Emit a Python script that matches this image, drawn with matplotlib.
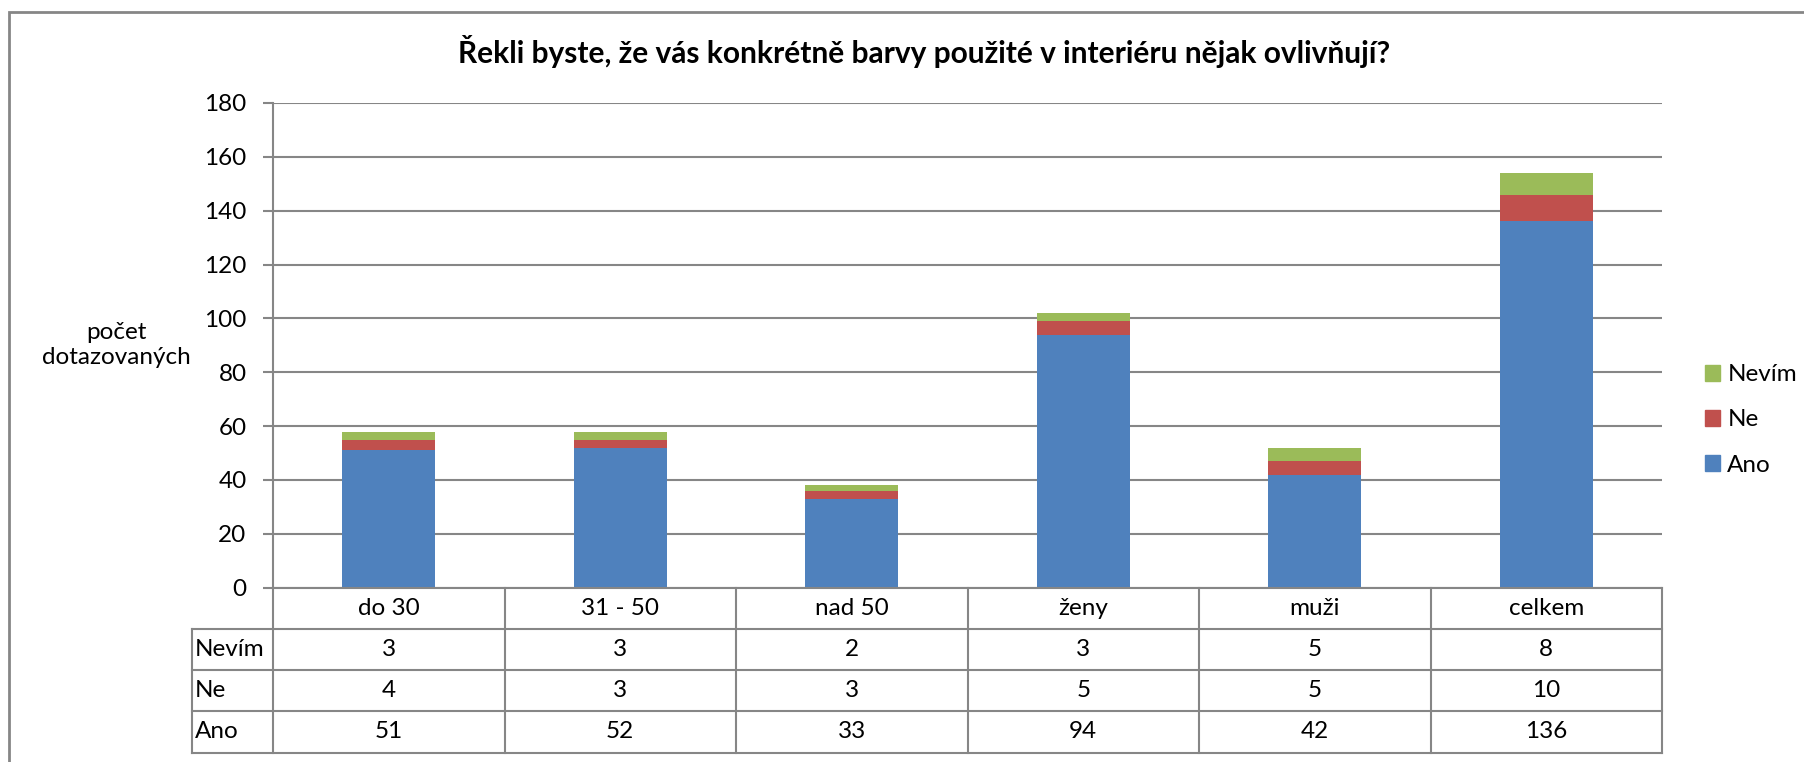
import matplotlib
matplotlib.use("Agg")
import matplotlib.pyplot as plt
from matplotlib.patches import Rectangle, Patch
import matplotlib.transforms as mtransforms

categories = ["do 30", "31 - 50", "nad 50", "ženy", "muži", "celkem"]
ano = [51, 52, 33, 94, 42, 136]
ne = [4, 3, 3, 5, 5, 10]
nevim = [3, 3, 2, 3, 5, 8]
series_names = ["Nevím", "Ne", "Ano"]
title = "Řekli byste, že vás konkrétně barvy použité v interiéru nějak ovlivňují?"
ylabel = "počet\ndotazovaných"
yticks = [0, 20, 40, 60, 80, 100, 120, 140, 160, 180]

C_ANO = "#4F81BD"
C_NE = "#C0504D"
C_NEVIM = "#9BBB59"
GRAY = "#868686"
FONT = "Lato"
FS = 17.5

W, H = 1804, 762
fig = plt.figure(figsize=(W / 100, H / 100), dpi=100)
plt.rcParams['font.family'] = [FONT, 'DejaVu Sans']

ax_left, ax_right = 273, 1662
ax_top, ax_bot = 103, 587.7
ax = fig.add_axes([ax_left / W, 1 - ax_bot / H, (ax_right - ax_left) / W, (ax_bot - ax_top) / H])

x = list(range(len(categories)))
bw = 0.4
ax.bar(x, ano, bw, color=C_ANO, zorder=3)
bottom2 = [a for a in ano]
ax.bar(x, ne, bw, bottom=bottom2, color=C_NE, zorder=3)
bottom3 = [a + n for a, n in zip(ano, ne)]
ax.bar(x, nevim, bw, bottom=bottom3, color=C_NEVIM, zorder=3)

ax.set_xlim(-0.5, len(categories) - 0.5)
ax.set_ylim(0, 180)
ax.set_yticks(yticks)
ax.set_yticklabels([str(t) for t in yticks], fontsize=FS, family=[FONT, 'DejaVu Sans'])
ax.yaxis.grid(True, color=GRAY, linewidth=1.5, zorder=0)
ax.set_xticks([])
for s in ["top", "right", "bottom"]:
    ax.spines[s].set_visible(False)
ax.spines["left"].set_color(GRAY)
ax.spines["left"].set_linewidth(1.5)
ax.tick_params(axis="y", length=7, width=1.5, color=GRAY, pad=12)

# table
row_h_px = 41.2
ax_h_px = ax_bot - ax_top
rh = row_h_px / ax_h_px
ax_w_px = ax_right - ax_left
lab_left = (192 - ax_left) / ax_w_px
trans_dx = mtransforms.blended_transform_factory(ax.transData, ax.transAxes)
lk = dict(color=GRAY, linewidth=1.5, clip_on=False, zorder=4)

ax.plot([0, 1], [0, 0], transform=ax.transAxes, **lk)
for i in range(1, 5):
    ax.plot([lab_left, 1], [-i * rh, -i * rh], transform=ax.transAxes, **lk)
for b in [i - 0.5 for i in range(len(categories) + 1)]:
    ax.plot([b, b], [0, -4 * rh], transform=trans_dx, **lk)
ax.plot([lab_left, lab_left], [-rh, -4 * rh], transform=ax.transAxes, **lk)

for i, c in enumerate(categories):
    ax.text(i, -0.5 * rh, c, transform=trans_dx, ha="center", va="center", fontsize=FS)
rows = [("Nevím", nevim), ("Ne", ne), ("Ano", ano)]
for r, (name, vals) in enumerate(rows):
    yy = -(r + 1.5) * rh
    ax.text(lab_left + 0.002, yy, name, transform=ax.transAxes, ha="left", va="center", fontsize=FS)
    for i, v in enumerate(vals):
        ax.text(i, yy, str(v), transform=trans_dx, ha="center", va="center", fontsize=FS)

fig.text(924 / W, 1 - 52 / H, title, ha="center", va="center", fontsize=21.5, fontweight="bold")
fig.text(116 / W, 1 - 345 / H, ylabel, ha="center", va="center", fontsize=FS, linespacing=1.25)

handles = [Patch(color=C_NEVIM), Patch(color=C_NE), Patch(color=C_ANO)]
leg = fig.legend(handles, series_names, loc="center left", bbox_to_anchor=(1705 / W, 1 - 420 / H),
                 frameon=False, fontsize=FS, handlelength=0.62, handleheight=0.62,
                 handletextpad=0.3, labelspacing=1.0, borderpad=0, borderaxespad=0)

fig.patches.append(Rectangle((9 / W, -0.1), 1.2, (1 - 11.5 / H) + 0.1, transform=fig.transFigure,
                             fill=False, edgecolor=GRAY, linewidth=2))

fig.savefig("out.png", dpi=100)
